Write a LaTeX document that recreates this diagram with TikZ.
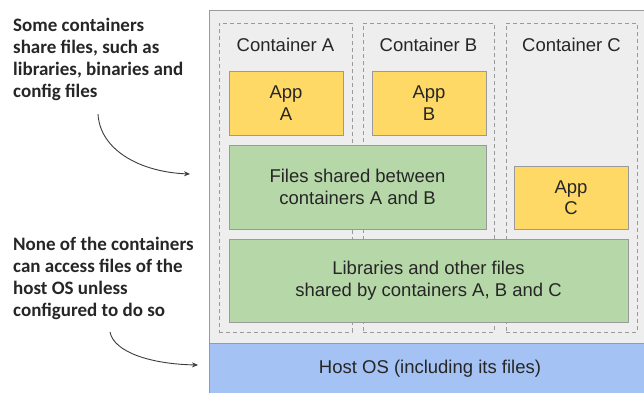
\documentclass[tikz,border=0pt]{standalone}
\usepackage{fontspec}
\setmainfont{Liberation Sans}
\newfontfamily\notefont{Carlito}
\usetikzlibrary{arrows.meta}
\definecolor{hostbg}{HTML}{EEEEEE}
\definecolor{frame}{HTML}{9A9A9A}
\definecolor{appfill}{HTML}{FFD966}
\definecolor{sharefill}{HTML}{B6D7A8}
\definecolor{osfill}{HTML}{A4C2F4}
\definecolor{ink}{HTML}{262626}
\tikzset{
  box/.style={draw=frame, line width=1pt, minimum width=#1, inner sep=0pt, align=center,
    text=ink, font=\fontsize{18.5}{21.5}\selectfont},
  appbox/.style={box=114pt, fill=appfill, minimum height=64pt},
  sharebox/.style={box=#1, fill=sharefill, minimum height=84pt},
  ctr/.style={draw=frame, line width=0.9pt, dash pattern=on 4pt off 3pt, minimum width=#1,
    minimum height=309pt, inner sep=0pt},
  ctrlabel/.style={text=ink, font=\fontsize{18.5}{21.5}\selectfont, inner sep=0pt},
  note/.style={anchor=north west, align=left, inner sep=0pt, text=ink,
    font=\notefont\bfseries\fontsize{19}{22}\selectfont},
  pointer/.style={draw=ink!90, line width=0.9pt, -{Stealth[length=6pt,width=5pt]}}
}
\begin{document}
\begin{tikzpicture}[x=1pt,y=-1pt]
\useasboundingbox (0,0) rectangle (644,392);
% machine and host OS
\path[fill=hostbg, draw=frame, line width=1pt] (209,10) rectangle (650,343);
\node[fill=osfill, draw=frame, line width=1pt, minimum width=441pt, minimum height=55pt,
  inner sep=0pt, anchor=north west] (host) at (209,343) {};
\node[ctrlabel] (hostlabel) at (430,369) {Host OS (including its files)};
% containers
\node[ctr=133pt] (cA) at (285.5,177.5) {};
\node[ctr=131pt] (cB) at (428.5,177.5) {};
\node[ctr=131pt] (cC) at (571.5,177.5) {};
\node[ctrlabel] (lA) at (285.5,45) {Container A};
\node[ctrlabel] (lB) at (428.5,45) {Container B};
\node[ctrlabel] (lC) at (571.5,45) {Container C};
% applications
\node[appbox] (appA) at (286,103) {App\\A};
\node[appbox] (appB) at (429,103) {App\\B};
\node[appbox, minimum height=63pt] (appC) at (571,197.5) {App\\C};
% shared file layers
\node[sharebox=257pt] (shAB) at (357.5,187) {Files shared between\\containers A and B};
\node[sharebox=399pt, minimum height=83pt] (shABC) at (428.5,280.5) {Libraries and other files\\shared by containers A, B and C};
% notes
\node[note] (n1) at (13,18) {Some containers\\share files, such as\\libraries, binaries and\\config files};
\node[note] (n2) at (13,237) {None of the containers\\can access files of the\\host OS unless\\configured to do so};
\coordinate (p1s) at (98,114);
\coordinate (p1e) at (190,174);
\coordinate (p2s) at (110,332);
\coordinate (p2e) at (198,365);
\draw[pointer] (p1s) .. controls (100,150) and (140,172) .. (p1e);
\draw[pointer] (p2s) .. controls (114,352) and (150,364) .. (p2e);
\end{tikzpicture}
\end{document}
